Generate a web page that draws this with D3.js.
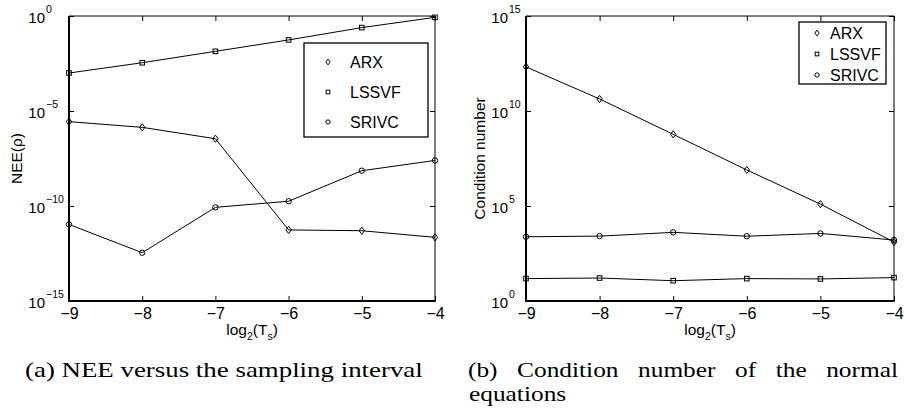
<!DOCTYPE html>
<html><head><meta charset="utf-8">
<script src="https://cdn.jsdelivr.net/npm/d3@7"></script>
<style>body{margin:0;background:#fff} svg{display:block}</style>
</head><body>
<script>
// ---- data ----
const xValues = [-9, -8, -7, -6, -5, -4];
const xTickValues = [-9, -8, -7, -6, -5, -4];
const neeARX   = [2.75e-6, 1.38e-6, 3.47e-7, 5.5e-12, 5.0e-12, 2.24e-12];
const neeLSSVF = [1.0e-3, 3.47e-3, 1.38e-2, 5.5e-2, 0.245, 0.85];
const neeSRIVC = [1.07e-11, 3.47e-13, 8.5e-11, 1.78e-10, 7.2e-9, 2.5e-8];
const condARX   = [2.1e12, 4.3e10, 5.9e8, 7.9e6, 1.26e5, 1.26e3];
const condLSSVF = [15.1, 16.2, 11.7, 15.1, 14.5, 17];
const condSRIVC = [2.4e3, 2.6e3, 4.1e3, 2.57e3, 3.6e3, 1.62e3];
const neeExponents = [0, -5, -10, -15];
const condExponents = [15, 10, 5, 0];
const seriesNames = ["ARX", "LSSVF", "SRIVC"];
const markerTypes = ["diamond", "square", "circle"];
const captionA = "(a) NEE versus the sampling interval";
const captionB1 = ["(b)", "Condition", "number", "of", "the", "normal"];
const captionB2 = "equations";

const W = 904, H = 411;
const sans = "'Liberation Sans', Arial, Helvetica, sans-serif";
const svg = d3.select("body").append("svg").attr("width", W).attr("height", H)
  .style("font-family", sans);

const minus = s => String(s).replace("-", "\u2212");

function marker(g, type, cx, cy, s) {
  if (type === "diamond") {
    g.append("path").attr("d", `M${cx},${cy - 3.6 * s}L${cx + 2.7 * s},${cy}L${cx},${cy + 3.6 * s}L${cx - 2.7 * s},${cy}Z`)
      .attr("fill", "none").attr("stroke", "#000").attr("stroke-width", 1);
  } else if (type === "square") {
    g.append("rect").attr("x", cx - 2.3 * s).attr("y", cy - 2.3 * s).attr("width", 4.6 * s).attr("height", 4.6 * s)
      .attr("fill", "none").attr("stroke", "#000").attr("stroke-width", 1);
  } else {
    g.append("circle").attr("cx", cx).attr("cy", cy).attr("r", 2.7 * s)
      .attr("fill", "none").attr("stroke", "#000").attr("stroke-width", 1);
  }
}

function panel(cfg) {
  const g = svg.append("g");
  const x = d3.scaleLinear().domain([-9, -4]).range([cfg.x0, cfg.x1]);
  const y = d3.scaleLog().domain(cfg.domain).range([cfg.y1, cfg.y0]);

  const bottom = g.append("g").attr("transform", `translate(0,${cfg.y1})`)
    .call(d3.axisBottom(x).tickValues(xTickValues).tickSizeInner(-5).tickSizeOuter(0).tickPadding(7)
      .tickFormat(d => minus(d)));
  bottom.select(".domain").remove();
  bottom.selectAll("text").attr("font-size", 16).attr("font-family", sans).attr("fill", "#000");
  const top = g.append("g").attr("transform", `translate(0,${cfg.y0})`)
    .call(d3.axisTop(x).tickValues(xTickValues).tickSizeInner(-5).tickSizeOuter(0).tickFormat(""));
  top.select(".domain").remove();
  const yTickVals = cfg.exps.map(e => Math.pow(10, e));
  const left = g.append("g").attr("transform", `translate(${cfg.x0},0)`)
    .call(d3.axisLeft(y).tickValues(yTickVals).tickSizeInner(-5).tickSizeOuter(0).tickFormat(""));
  left.select(".domain").remove();
  const right = g.append("g").attr("transform", `translate(${cfg.x1},0)`)
    .call(d3.axisRight(y).tickValues(yTickVals).tickSizeInner(-5).tickSizeOuter(0).tickFormat(""));
  right.select(".domain").remove();
  g.selectAll(".tick line").attr("stroke", "#000");

  // box
  g.append("line").attr("x1", cfg.x0).attr("x2", cfg.x1).attr("y1", cfg.y0).attr("y2", cfg.y0).attr("stroke", "#000").attr("stroke-width", 1);
  g.append("line").attr("x1", cfg.x1).attr("x2", cfg.x1).attr("y1", cfg.y0).attr("y2", cfg.y1).attr("stroke", "#000").attr("stroke-width", 1);
  g.append("line").attr("x1", cfg.x0).attr("x2", cfg.x0).attr("y1", cfg.y0).attr("y2", cfg.y1 + 1).attr("stroke", "#000").attr("stroke-width", 2);
  g.append("line").attr("x1", cfg.x0 - 1).attr("x2", cfg.x1 + 0.5).attr("y1", cfg.y1).attr("y2", cfg.y1).attr("stroke", "#000").attr("stroke-width", 2);

  // y tick labels 10^e
  cfg.exps.forEach(e => {
    const yy = y(Math.pow(10, e));
    g.append("text").attr("x", cfg.x0 - cfg.baseOffset).attr("y", yy + 7).attr("text-anchor", "end")
      .attr("font-size", 15).text("10");
    g.append("text").attr("x", cfg.x0 - cfg.baseOffset + 1).attr("y", yy - 3).attr("text-anchor", "start")
      .attr("font-size", 10.5).text(minus(e));
  });

  // x label
  const xl = g.append("text").attr("x", (cfg.x0 + cfg.x1) / 2).attr("y", 335).attr("text-anchor", "middle").attr("font-size", 15.5);
  xl.append("tspan").text("log");
  xl.append("tspan").attr("font-size", 10.5).attr("dy", 5).text("2");
  xl.append("tspan").attr("dy", -5).text("(T");
  xl.append("tspan").attr("font-size", 10.5).attr("dy", 5).text("s");
  xl.append("tspan").attr("dy", -5).text(")");

  // y label
  g.append("text").attr("transform", `translate(${cfg.ylabelX},${(cfg.y0 + cfg.y1) / 2}) rotate(-90)`)
    .attr("text-anchor", "middle").attr("dy", "0.35em").attr("font-size", 15.5).text(cfg.ylabel);

  // series
  const line = d3.line().x((d, i) => x(xValues[i])).y(d => y(d));
  cfg.series.forEach((vals, si) => {
    g.append("path").attr("d", line(vals)).attr("fill", "none").attr("stroke", "#000").attr("stroke-width", 1);
    vals.forEach((v, i) => marker(g, markerTypes[si], x(xValues[i]), y(v), 1));
  });

  // legend
  const L = cfg.legend;
  g.append("rect").attr("x", L.x).attr("y", L.y).attr("width", L.w).attr("height", L.h)
    .attr("fill", "#fff").attr("stroke", "#000").attr("stroke-width", 1.3);
  seriesNames.forEach((name, i) => {
    marker(g, markerTypes[i], L.markerX, L.rowY[i], 0.8);
    g.append("text").attr("x", L.textX).attr("y", L.rowY[i]).attr("dy", "0.36em")
      .attr("font-size", 16).text(name);
  });
}

panel({
  x0: 69, x1: 435, y0: 16, y1: 301, domain: [1e-15, 1], exps: neeExponents, baseOffset: 24,
  ylabel: "NEE(\u03C1)", ylabelX: 17,
  series: [neeARX, neeLSSVF, neeSRIVC],
  legend: { x: 304, y: 43, w: 124, h: 94, rowY: [62, 92, 122], markerX: 328, textX: 350 }
});
panel({
  x0: 526, x1: 894, y0: 16, y1: 301, domain: [1, 1e15], exps: condExponents, baseOffset: 18,
  ylabel: "Condition number", ylabelX: 480,
  series: [condARX, condLSSVF, condSRIVC],
  legend: { x: 799, y: 22, w: 87, h: 62, rowY: [33, 54, 75], markerX: 817, textX: 830 }
});

// captions (serif, horizontally widened to mimic Computer Modern proportions)
const capFont = "'Liberation Serif', 'Times New Roman', serif";
const capSize = 21.5;
const stretch = 1.18;
function capText(str, x, y, sx) {
  const gg = svg.append("g").attr("transform", `translate(${x},${y}) scale(${sx},1)`);
  return gg.append("text").attr("x", 0).attr("y", 0).attr("font-family", capFont).attr("font-size", capSize).text(str);
}
const ta = capText(captionA, 25, 377, 1);
const wa = ta.node().getComputedTextLength();
d3.select(ta.node().parentNode).attr("transform", `translate(25,377) scale(${398 / wa},1)`);

const wordNodes = captionB1.map(w => capText(w, 0, 377, stretch));
const widths = wordNodes.map(t => t.node().getComputedTextLength() * stretch);
const startX = 468, endX = 898;
const gap = (endX - startX - d3.sum(widths)) / (wordNodes.length - 1);
let cx = startX;
wordNodes.forEach((t, i) => {
  d3.select(t.node().parentNode).attr("transform", `translate(${cx},377) scale(${stretch},1)`);
  cx += widths[i] + gap;
});
capText(captionB2, 469, 401, stretch);
</script>
</body></html>
